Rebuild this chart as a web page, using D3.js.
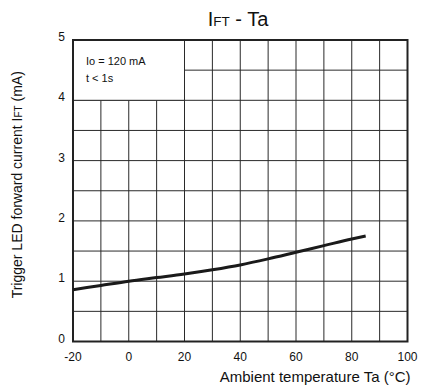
<!DOCTYPE html>
<html>
<head>
<meta charset="utf-8">
<script src="https://cdn.jsdelivr.net/npm/d3@7"></script>
<style>
  body { margin: 0; background: #fff; }
  text { font-family: "Liberation Sans", Arial, sans-serif; fill: #111; }
</style>
</head>
<body>
<div id="chart"></div>
<script>
const width = 434
const height = 392
const margin = { top: 40, right: 26.5, bottom: 50.5, left: 73 }

const temps = [-20, -10, 0, 10, 20, 30, 40, 50, 60, 70, 80, 85]
const ift = [0.86, 0.93, 1.0, 1.06, 1.12, 1.19, 1.27, 1.37, 1.48, 1.59, 1.70, 1.75]
const xTicks = [-20, 0, 20, 40, 60, 80, 100]
const yTicks = [0, 1, 2, 3, 4, 5]
const xGrid = d3.range(-20, 101, 10)
const yGrid = d3.range(0, 5.01, 0.5)
const noteLines = ['Io = 120 mA', 't < 1s']

const svg = d3.select('#chart')
  .append('svg')
  .attr('width', width)
  .attr('height', height)

const x = d3.scaleLinear().domain([-20, 100]).range([margin.left, width - margin.right])
const y = d3.scaleLinear().domain([0, 5]).range([height - margin.bottom, margin.top])

// grid
svg.append('g')
  .selectAll('line')
  .data(xGrid)
  .enter()
  .append('line')
  .attr('x1', (d) => x(d))
  .attr('x2', (d) => x(d))
  .attr('y1', y(0))
  .attr('y2', y(5))
  .attr('stroke', '#2a2a2a')
  .attr('stroke-width', 1)

svg.append('g')
  .selectAll('line')
  .data(yGrid)
  .enter()
  .append('line')
  .attr('x1', x(-20))
  .attr('x2', x(100))
  .attr('y1', (d) => y(d))
  .attr('y2', (d) => y(d))
  .attr('stroke', '#2a2a2a')
  .attr('stroke-width', 1)

// note box clears the grid behind it
svg.append('rect')
  .attr('x', x(-20))
  .attr('y', y(5))
  .attr('width', x(20) - x(-20))
  .attr('height', y(4) - y(5))
  .attr('fill', '#fff')
  .attr('stroke', '#2a2a2a')
  .attr('stroke-width', 1)

svg.append('g')
  .selectAll('text')
  .data(noteLines)
  .enter()
  .append('text')
  .attr('x', x(-20) + 13)
  .attr('y', (d, i) => y(5) + 25 + i * 17)
  .attr('font-size', 11)
  .text((d) => d)

// frame
svg.append('rect')
  .attr('x', x(-20))
  .attr('y', y(5))
  .attr('width', x(100) - x(-20))
  .attr('height', y(0) - y(5))
  .attr('fill', 'none')
  .attr('stroke', '#222')
  .attr('stroke-width', 2)

// curve
const line = d3.line()
  .x((d, i) => x(temps[i]))
  .y((d) => y(d))
  .curve(d3.curveMonotoneX)

svg.append('path')
  .datum(ift)
  .attr('d', line)
  .attr('fill', 'none')
  .attr('stroke', '#1a1a1a')
  .attr('stroke-width', 3)

// tick labels
svg.append('g')
  .selectAll('text')
  .data(xTicks)
  .enter()
  .append('text')
  .attr('x', (d) => x(d))
  .attr('y', y(0) + 19)
  .attr('text-anchor', 'middle')
  .attr('font-size', 12)
  .text((d) => d)

svg.append('g')
  .selectAll('text')
  .data(yTicks)
  .enter()
  .append('text')
  .attr('x', x(-20) - 8)
  .attr('y', (d) => y(d) + 1)
  .attr('text-anchor', 'end')
  .attr('font-size', 12)
  .text((d) => d)

// title
const title = svg.append('text')
  .attr('x', 238)
  .attr('y', 26)
  .attr('text-anchor', 'middle')
  .attr('font-size', 20)
title.append('tspan').text('I')
title.append('tspan').attr('font-size', 13.5).text('FT')
title.append('tspan').text(' - Ta')

// axis titles
svg.append('text')
  .attr('x', x(100) + 3)
  .attr('y', 382)
  .attr('text-anchor', 'end')
  .attr('font-size', 15)
  .text('Ambient temperature Ta (°C)')

const yLabel = svg.append('text')
  .attr('transform', `translate(22, ${(y(0) + y(5)) / 2 - 6}) rotate(-90)`)
  .attr('text-anchor', 'middle')
  .attr('font-size', 14)
yLabel.append('tspan').text('Trigger LED forward current I')
yLabel.append('tspan').attr('font-size', 10).text('FT')
yLabel.append('tspan').text(' (mA)')
</script>
</body>
</html>
